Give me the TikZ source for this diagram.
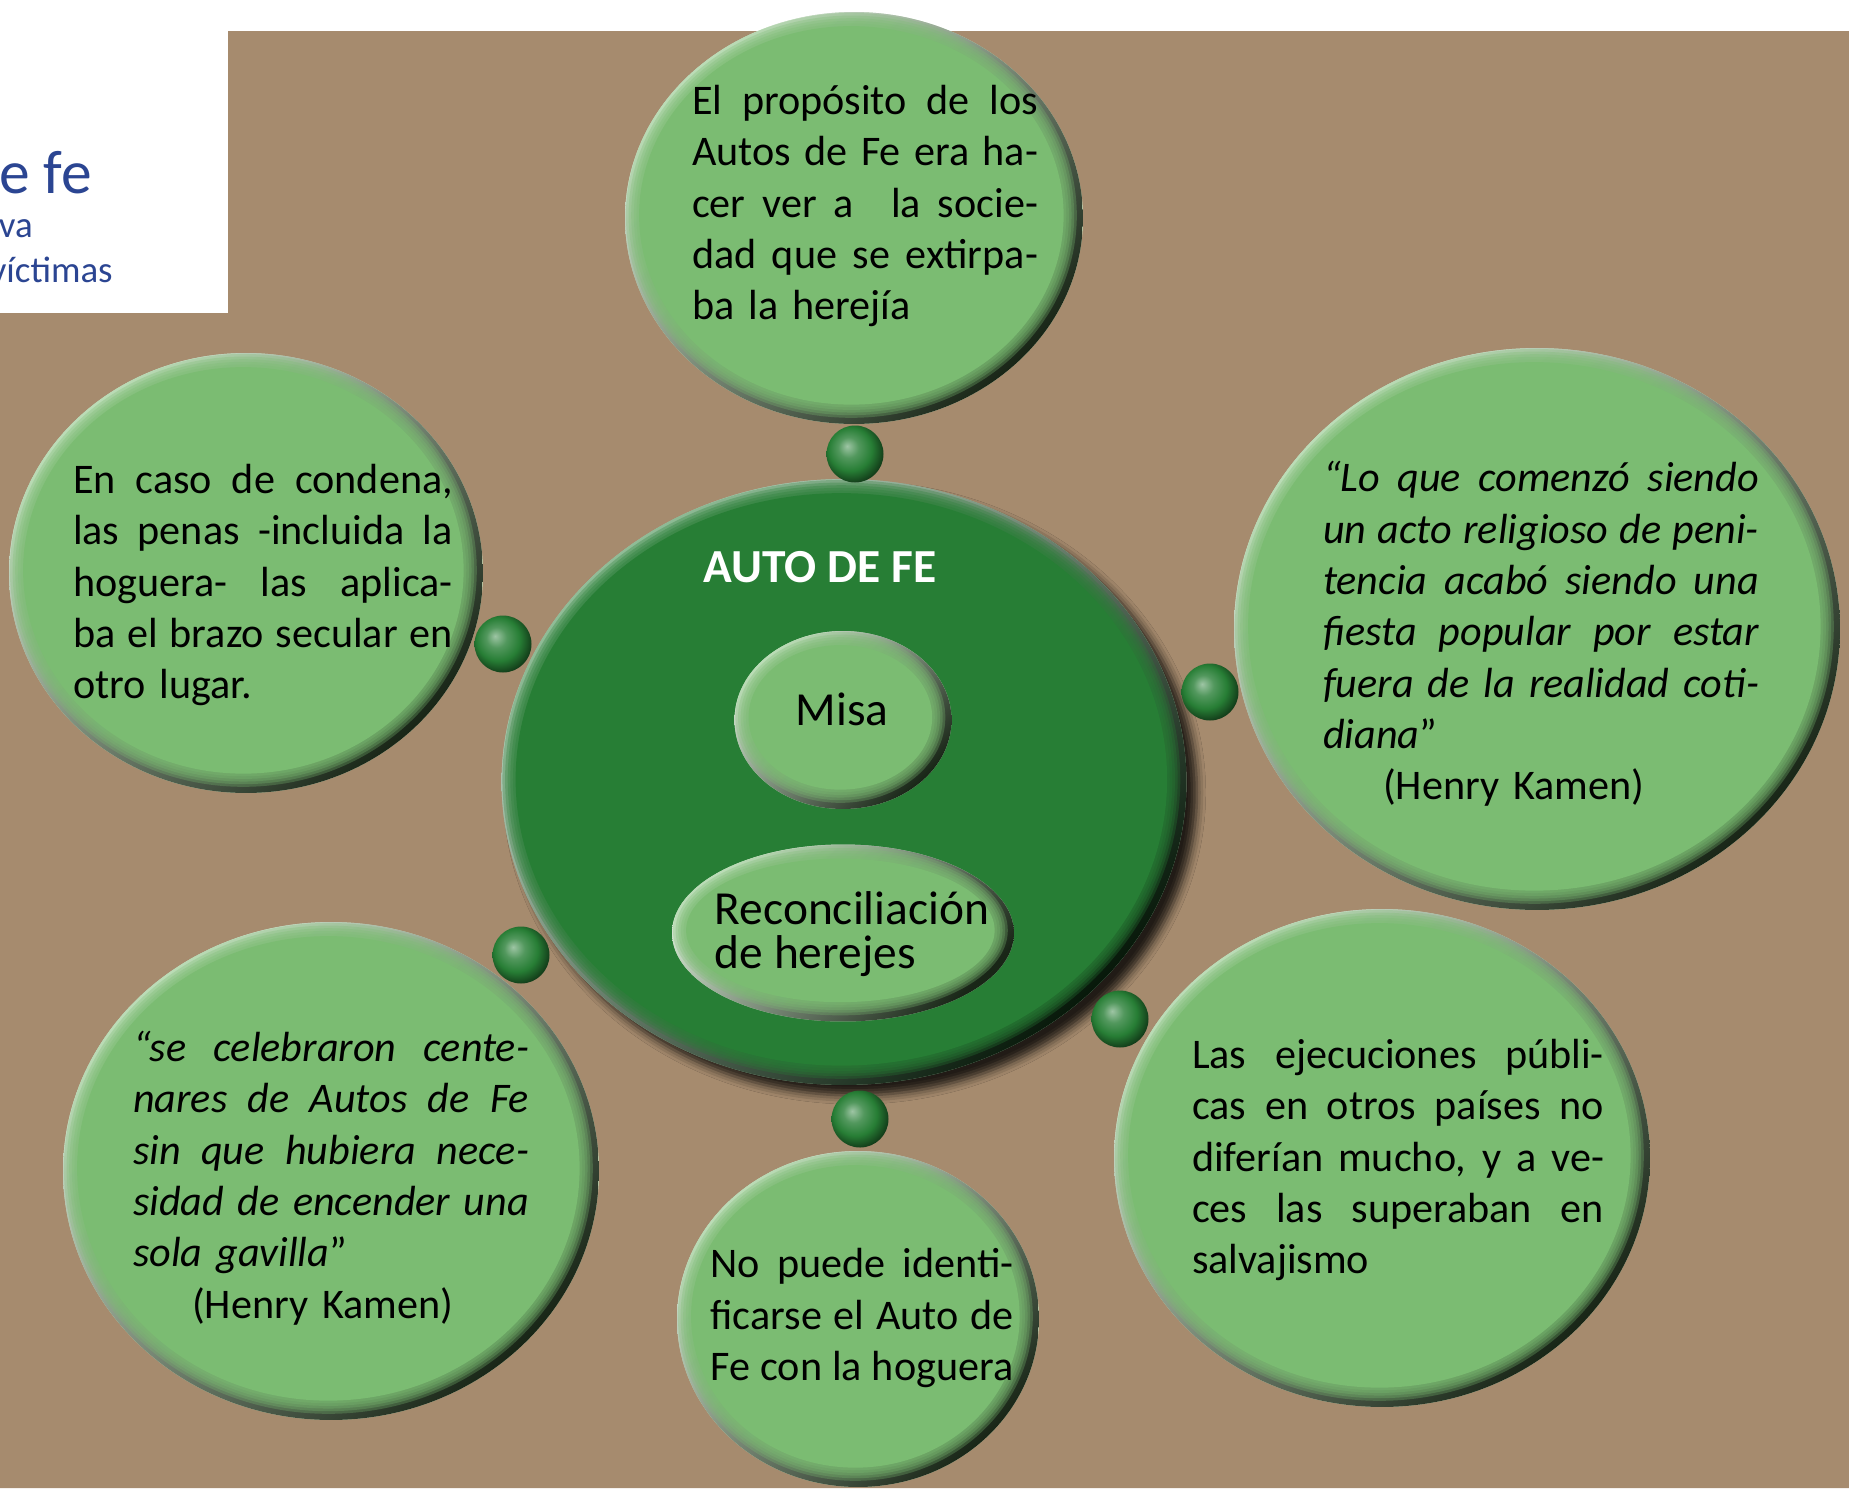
\documentclass[tikz,border=0pt]{standalone}
\usepackage{fontspec}
\setmainfont{Carlito}
\usetikzlibrary{calc,positioning,shapes.geometric,shadows.blur}

\definecolor{earth}{HTML}{A68B6E}
\definecolor{leaf}{HTML}{7BBC72}
\definecolor{pine}{HTML}{277E35}
\definecolor{ink}{HTML}{2B4592}

% one justified line of a block
\newcommand{\jline}[1]{\leavevmode\hbox to \hsize{\spaceskip=0.226em plus 1fil\relax #1}}

\pgfdeclareradialshading{knobshade}{\pgfpoint{-7bp}{7bp}}{color(0bp)=(pine!45!white); color(9bp)=(pine!80!white); color(19bp)=(pine); color(29bp)=(pine!45!black); color(50bp)=(pine!30!black)}

\tikzset{
	bubble/.style={ellipse, inner sep=0pt, fill=#1!50!white, path picture={
		\shade[top color=#1!30!white, middle color=#1, bottom color=#1!20!black, shading angle=45]
			(path picture bounding box.south west) rectangle (path picture bounding box.north east);
		\foreach \d/\o in {2/0.3,3.5/0.3,5/0.3,6.5/0.3,8/0.3,9.5/1}
			\fill[#1, opacity=\o] let \p1=(path picture bounding box.north east), \p2=(path picture bounding box.center)
				in ([xshift=-1.5pt,yshift=1.5pt]\p2) ellipse ({\x1-\x2-\d pt} and {\y1-\y2-\d pt});
	}},
	knob/.style={circle, inner sep=0pt, minimum size=1.14cm, shading=knobshade},
	txt/.style={text width=#1, align=left, inner sep=0pt, font=\fontsize{24}{29.2}\selectfont},
	quote/.style={txt=#1, font=\fontsize{24}{29.2}\selectfont\itshape},
	core/.style={inner sep=0pt, align=left, font=\fontsize{27}{25}\selectfont},
	head/.style={anchor=base east, inner sep=0pt, text=ink},
}

\begin{document}
\begin{tikzpicture}[x=0.02cm,y=-0.02cm]
	\useasboundingbox (0,0) rectangle (1849,1488);
	\fill[white] (0,0) rectangle (1849,1488);
	\fill[earth] (0,313) -- (228,313) -- (228,31) -- (1849,31) -- (1849,1488) -- (0,1488) -- cycle;

	% title, cut at the left
	\node[head, font=\fontsize{35}{40}\selectfont] (ttl) at (92,193) {e fe};
	\node[head, font=\fontsize{21}{26}\selectfont] (sub1) at (33,237) {va};
	\node[head, font=\fontsize{21}{26}\selectfont] (sub2) at (113,282) {víctimas};

	% outer bubbles
	\node[bubble=leaf, minimum width=9.16cm, minimum height=8.24cm] (prop) at (854,218) {};
	\node[bubble=leaf, minimum width=9.48cm, minimum height=8.8cm] (caso) at (246,573) {};
	\node[bubble=leaf, minimum width=12.12cm, minimum height=11.24cm] (cita1) at (1537,629) {};
	\node[bubble=leaf, minimum width=10.72cm, minimum height=9.96cm] (cita2) at (331,1171) {};
	\node[bubble=leaf, minimum width=7.24cm, minimum height=6.72cm] (hog) at (858,1319) {};
	\node[bubble=leaf, minimum width=10.72cm, minimum height=9.96cm] (ejec) at (1382,1158) {};

	% centre
	\node[bubble=pine, minimum width=13.7cm, minimum height=12.12cm,
		blur shadow={shadow xshift=6pt, shadow yshift=-6pt, shadow blur radius=5pt, shadow opacity=80}] (auto) at (844,782) {};
	\node[bubble=leaf, minimum width=4.34cm, minimum height=3.56cm] (misa) at (843,720) {};
	\node[bubble=leaf, minimum width=6.84cm, minimum height=3.54cm] (recon) at (843,933) {};

	\node[knob] (kTop) at (855,454) {};
	\node[knob] (kLeft) at (503,644) {};
	\node[knob] (kRight) at (1210,692) {};
	\node[knob] (kLowL) at (521,955) {};
	\node[knob] (kBot) at (860,1119) {};
	\node[knob] (kLowR) at (1120,1019) {};

	% texts
	\node[inner sep=0pt, text=white, font=\fontsize{27}{30}\selectfont\bfseries] (autoT) at (820,567) {AUTO DE FE};
	\node[core] (misaT) at (842,709) {Misa};
	\node[core] (reconT) at (852,934) {Reconciliación\\de herejes};

	\node[txt=6.92cm] (propT) at (865,206) {\jline{El propósito de los}\\ \jline{Autos de Fe era ha-}\\ \jline{cer ver a\hspace{0.3em plus 1fil} la socie-}\\ \jline{dad que se extirpa-}\\ ba la herejía};
	\node[txt=7.6cm] (casoT) at (263,585) {\jline{En caso de condena,}\\ \jline{las penas -incluida la}\\ \jline{hoguera- las aplica-}\\ \jline{ba el brazo secular en}\\ otro lugar.};
	\node[quote=8.72cm] (cita1T) at (1541,634) {\jline{“Lo que comenzó siendo}\\ \jline{un acto religioso de peni-}\\ \jline{tencia acabó siendo una}\\ \jline{fiesta popular por estar}\\ \jline{fuera de la realidad coti-}\\ diana\upshape”\\ \hspace*{1.2cm}(Henry Kamen)};
	\node[quote=7.92cm] (cita2T) at (331,1178) {\jline{“se celebraron cente-}\\ \jline{nares de Autos de Fe}\\ \jline{sin que hubiera nece-}\\ \jline{sidad de encender una}\\ sola gavilla\upshape”\\ \hspace*{1.18cm}(Henry Kamen)};
	\node[txt=6.06cm] (hogT) at (862,1318) {\jline{No puede identi-}\\ \jline{ficarse el Auto de}\\ \jline{Fe con la hoguera}};
	\node[txt=8.24cm] (ejecT) at (1398,1160) {\jline{Las ejecuciones públi-}\\ \jline{cas en otros países no}\\ \jline{diferían mucho, y a ve-}\\ \jline{ces las superaban en}\\ salvajismo};
\end{tikzpicture}
\end{document}
